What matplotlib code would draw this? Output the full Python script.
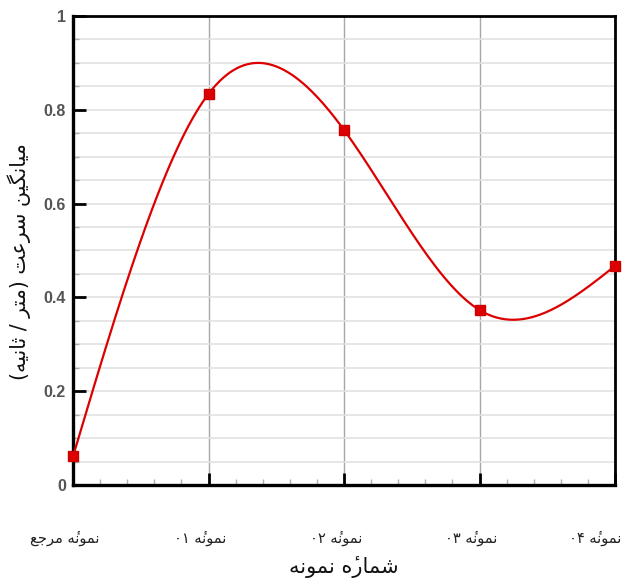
import numpy as np
import matplotlib
matplotlib.use("Agg")
import matplotlib.pyplot as plt
import matplotlib.transforms as mtransforms
from matplotlib.ticker import MultipleLocator

# data
sample_idx = [0, 1, 2, 3, 4]
velocity = [0.061, 0.834, 0.757, 0.373, 0.467]
sample_labels = ["نمونهٔ مرجع", "نمونهٔ ۰۱", "نمونهٔ ۰۲", "نمونهٔ ۰۳", "نمونهٔ ۰۴"]
x_title = "شمارهٔ نمونه"
y_title = "میانگین سرعت (متر / ثانیه)"
y_ticks = [0, 0.2, 0.4, 0.6, 0.8, 1.0]
y_tick_labels = ["0", "0.2", "0.4", "0.6", "0.8", "1"]

# matplotlib has no arabic shaping / bidi, so do a tiny one by hand
# (iso, fin, ini, med); None for ini/med means right-joining only
FORMS = {
    "ا": ("\uFE8D", "\uFE8E", None, None),
    "ت": ("\uFE95", "\uFE96", "\uFE97", "\uFE98"),
    "ث": ("\uFE99", "\uFE9A", "\uFE9B", "\uFE9C"),
    "ج": ("\uFE9D", "\uFE9E", "\uFE9F", "\uFEA0"),
    "ر": ("\uFEAD", "\uFEAE", None, None),
    "س": ("\uFEB1", "\uFEB2", "\uFEB3", "\uFEB4"),
    "ش": ("\uFEB5", "\uFEB6", "\uFEB7", "\uFEB8"),
    "ع": ("\uFEC9", "\uFECA", "\uFECB", "\uFECC"),
    "م": ("\uFEE1", "\uFEE2", "\uFEE3", "\uFEE4"),
    "ن": ("\uFEE5", "\uFEE6", "\uFEE7", "\uFEE8"),
    "ه": ("\uFEE9", "\uFEEA", "\uFEEB", "\uFEEC"),
    "و": ("\uFEED", "\uFEEE", None, None),
    "ی": ("\uFBFC", "\uFBFD", "\uFEF3", "\uFEF4"),
    "گ": ("\uFB92", "\uFB93", "\uFB94", "\uFB95"),
}
MARKS = "\u0654"
MIRROR = {"(": ")", ")": "("}


def is_ltr(c):
    return c.isdigit() or c.isascii() and c.isalnum() or c == "."


def rtl(text):
    # split into clusters (base + following marks)
    clusters = []
    for c in text:
        if c in MARKS and clusters:
            clusters[-1] += c
        else:
            clusters.append(c)
    bases = [cl[0] for cl in clusters]
    shaped = []
    for i, cl in enumerate(clusters):
        c = cl[0]
        if c not in FORMS:
            shaped.append(MIRROR.get(c, c) + cl[1:])
            continue
        prev = bases[i - 1] if i > 0 else ""
        nxt = bases[i + 1] if i + 1 < len(bases) else ""
        join_prev = prev in FORMS and FORMS[prev][2] is not None
        join_next = nxt in FORMS and FORMS[c][2] is not None
        iso, fin, ini, med = FORMS[c]
        if join_prev and join_next:
            g = med
        elif join_prev:
            g = fin
        elif join_next:
            g = ini
        else:
            g = iso
        shaped.append(g + cl[1:])
    out = shaped[::-1]
    # put digit runs back in ltr order
    res = []
    i = 0
    while i < len(out):
        if is_ltr(out[i][0]):
            j = i
            while j < len(out) and is_ltr(out[j][0]):
                j += 1
            res.extend(out[i:j][::-1])
            i = j
        else:
            res.append(out[i])
            i += 1
    return "".join(res)


def natural_spline(x, y, n=400):
    x = np.asarray(x, float)
    y = np.asarray(y, float)
    h = np.diff(x)
    k = len(x)
    A = np.zeros((k, k))
    b = np.zeros(k)
    A[0, 0] = A[-1, -1] = 1
    for i in range(1, k - 1):
        A[i, i - 1] = h[i - 1]
        A[i, i] = 2 * (h[i - 1] + h[i])
        A[i, i + 1] = h[i]
        b[i] = 6 * ((y[i + 1] - y[i]) / h[i] - (y[i] - y[i - 1]) / h[i - 1])
    M = np.linalg.solve(A, b)
    xs = np.linspace(x[0], x[-1], n)
    seg = np.clip(np.searchsorted(x, xs) - 1, 0, k - 2)
    x0, x1 = x[seg], x[seg + 1]
    hh = x1 - x0
    a = (x1 - xs) / hh
    t = (xs - x0) / hh
    ys = (a * y[seg] + t * y[seg + 1]
          + ((a ** 3 - a) * M[seg] + (t ** 3 - t) * M[seg + 1]) * hh ** 2 / 6)
    return xs, ys


fig = plt.figure(figsize=(6.22, 5.86), dpi=100)
ax = fig.add_axes([0.1174, 0.1724, 0.8714, 0.8003])

red = "#dd0000"
xs, ys = natural_spline(sample_idx, velocity)
ax.plot(xs, ys, color=red, lw=1.6, zorder=3)
ax.plot(sample_idx, velocity, "s", color=red, ms=7.5, mec="#cc0000", clip_on=False, zorder=4)

ax.set_xlim(0, 4)
ax.set_ylim(0, 1)

# grid
ax.yaxis.set_minor_locator(MultipleLocator(0.05))
ax.xaxis.set_minor_locator(MultipleLocator(0.2))
ax.grid(True, which="minor", axis="y", color="#e2e2e2", lw=1.2)
ax.grid(True, which="major", axis="y", color="#e2e2e2", lw=1.2)
ax.grid(True, which="major", axis="x", color="#a8a8a8", lw=1.0)
ax.set_axisbelow(True)

ax.set_yticks(y_ticks)
ax.set_yticklabels(y_tick_labels, fontfamily="Liberation Sans", fontweight="bold",
                   fontsize=11.5, color="#555555")
ax.set_xticks(sample_idx)
ax.set_xticklabels([rtl(s) for s in sample_labels], fontfamily="DejaVu Sans",
                   fontsize=10.5, color="#222222")

ax.tick_params(axis="both", which="major", direction="in", length=9, width=2, color="black")
ax.tick_params(axis="y", which="major", pad=5)
ax.tick_params(axis="x", which="major", pad=33)
ax.tick_params(axis="both", which="minor", direction="in", length=4, width=1, color="#b0b0b0")

shift = mtransforms.ScaledTranslation(-8 / 100, 0, fig.dpi_scale_trans)
xlabs = ax.get_xticklabels()
for lab in xlabs:
    lab.set_transform(lab.get_transform() + shift)
# last one sits against the figure edge
xlabs[-1].set_horizontalalignment("right")
xlabs[-1].set_transform(xlabs[-1].get_transform()
                        + mtransforms.ScaledTranslation(14 / 100, 0, fig.dpi_scale_trans))

for side in ["left", "bottom"]:
    ax.spines[side].set_linewidth(2.4)
for side in ["top", "right"]:
    ax.spines[side].set_linewidth(2.0)

ax.set_xlabel(rtl(x_title), fontfamily="DejaVu Sans", fontsize=15, labelpad=7, color="#111111")
ax.set_ylabel(rtl(y_title), fontfamily="DejaVu Sans", fontsize=14.8, color="#111111")
ax.yaxis.set_label_coords(-0.078, 0.477)

fig.savefig("out.png", dpi=100)
